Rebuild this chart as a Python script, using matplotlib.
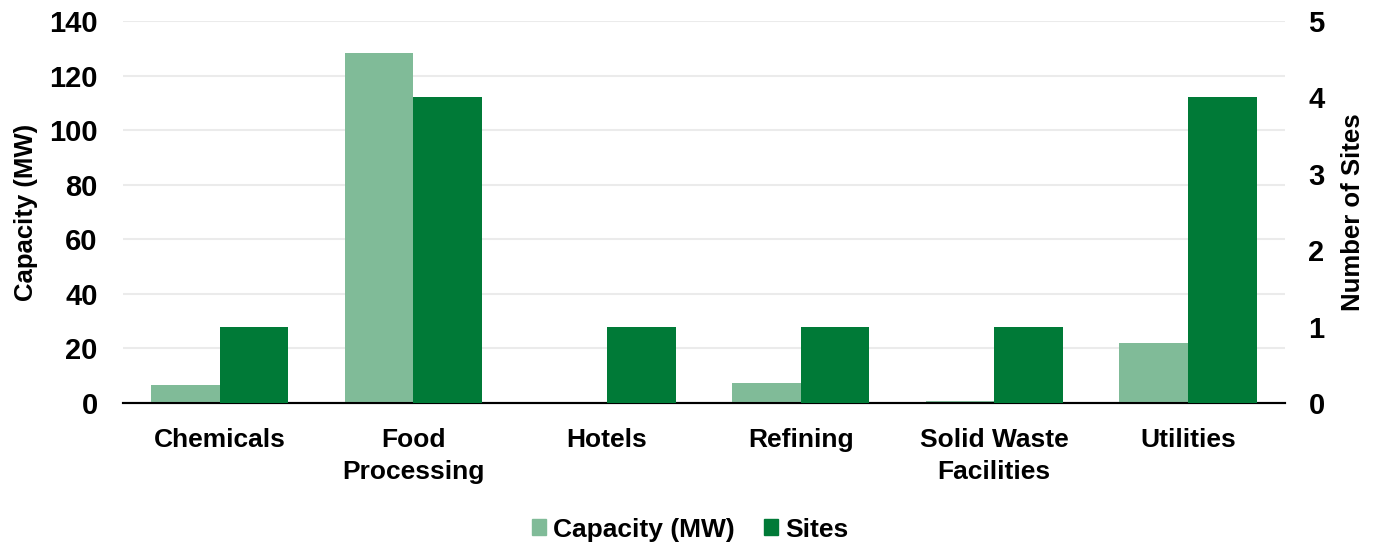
import matplotlib
matplotlib.use('Agg')
import matplotlib.pyplot as plt
from matplotlib.patches import Patch
import numpy as np

plt.rcParams['font.family'] = ['Liberation Sans', 'DejaVu Sans']

# ── Data ───────────────────────────────────────────────────────────────────
categories = ['Chemicals', 'Food\nProcessing', 'Hotels', 'Refining',
              'Solid Waste\nFacilities', 'Utilities']
capacity_mw = [6.5, 128.4, 0.0, 7.4, 0.8, 22.0]
sites = [1, 4, 1, 1, 1, 4]

LIGHT = '#80BB98'
DARK = '#007A37'
GRID = '#EBEBEB'

fig = plt.figure(figsize=(13.8, 5.46), dpi=100)
ax = fig.add_axes([0.089, 0.262, 0.842, 0.6995])
ax2 = ax.twinx()

x = np.arange(len(categories))
w = 0.355
ax.bar(x - w / 2, capacity_mw, width=w, color=LIGHT, zorder=3)
ax2.bar(x + w / 2, sites, width=w, color=DARK, zorder=3)

ax.set_xlim(-0.5, len(categories) - 0.5)
ax.set_ylim(0, 140)
ax.set_yticks(range(0, 141, 20))
ax2.set_ylim(0, 5)
ax2.set_yticks(range(0, 6))

ax.grid(axis='y', color=GRID, linewidth=1.5, zorder=0)
ax.set_axisbelow(True)
for a in (ax, ax2):
    for s in ('top', 'left', 'right'):
        a.spines[s].set_visible(False)
    a.spines['bottom'].set_color('black')
    a.spines['bottom'].set_linewidth(1.5)
    a.tick_params(axis='y', length=0, labelsize=21)
ax.tick_params(axis='y', pad=18)
ax2.tick_params(axis='y', pad=17)

for lbl in ax.get_yticklabels() + ax2.get_yticklabels():
    lbl.set_fontweight('bold')

ax.set_xticks(x)
ax.set_xticklabels(categories, fontsize=19, fontweight='bold', linespacing=1.4)
ax.tick_params(axis='x', length=0, pad=18)

ax.set_ylabel('Capacity (MW)', fontsize=18.5, fontweight='bold', labelpad=8)
ax2.set_ylabel('Number of Sites', fontsize=18.5, fontweight='bold', labelpad=12)

handles = [Patch(color=LIGHT, label='Capacity (MW)'),
           Patch(color=DARK, label='Sites')]
fig.legend(handles=handles, loc='center', bbox_to_anchor=(0.5, 0.03), ncol=2,
           frameon=False, prop={'size': 19, 'weight': 'bold'},
           handlelength=0.55, handleheight=0.55, handletextpad=0.25, columnspacing=1.1)

fig.savefig('out.png', dpi=100, facecolor='white')
